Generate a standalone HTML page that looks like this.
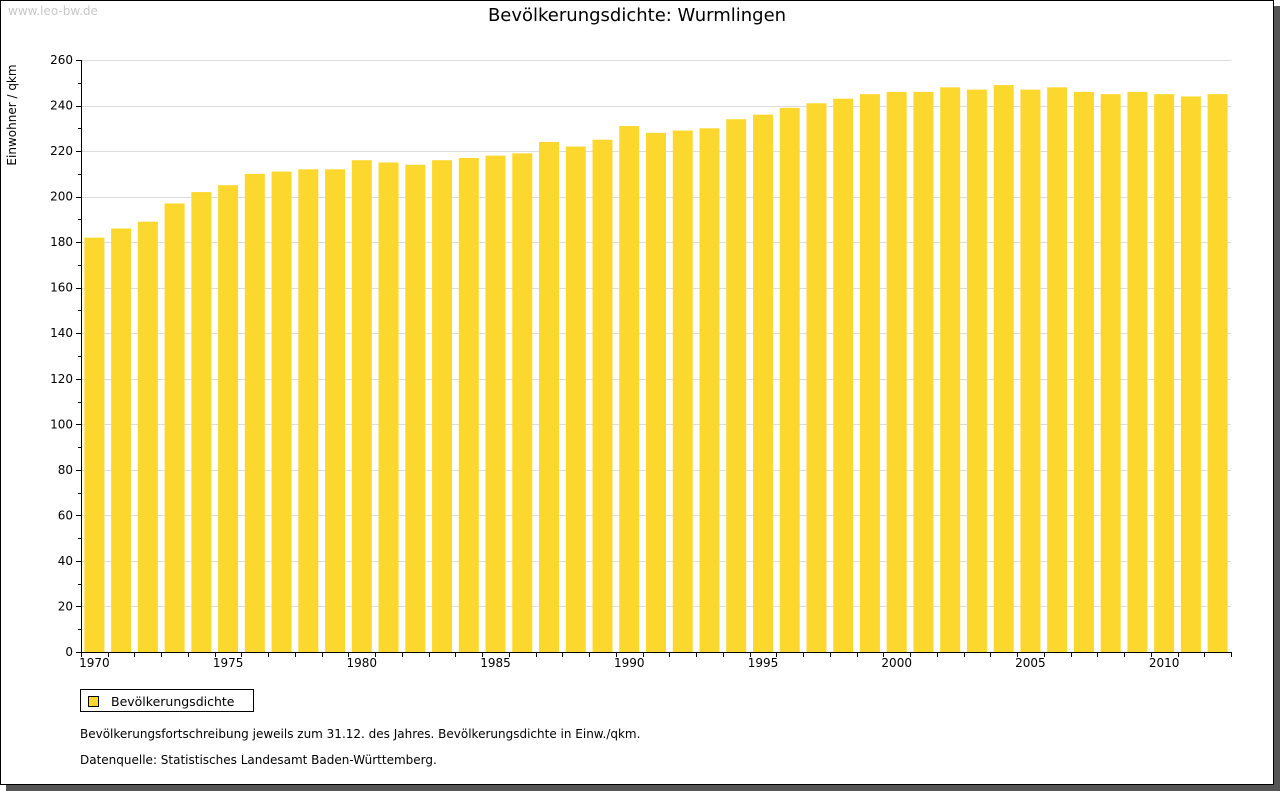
<!DOCTYPE html>
<html><head><meta charset="utf-8"><style>
body{margin:0;background:#fff;width:1280px;height:791px;overflow:hidden;font-family:"DejaVu Sans","Liberation Sans",sans-serif}
</style></head><body>
<svg width="1280" height="791" xmlns="http://www.w3.org/2000/svg">
<rect x="6" y="6" width="1274" height="785" fill="#555"/>
<rect x="0.5" y="0.5" width="1273" height="784" fill="#fff" stroke="#000"/>
<text x="8" y="15" font-size="12" fill="#c8c8c8">www.leo-bw.de</text>
<text x="637" y="21" font-size="18" text-anchor="middle" fill="#000">Bevölkerungsdichte: Wurmlingen</text>
<text transform="translate(16,115) rotate(-90)" font-size="12" text-anchor="middle" fill="#000">Einwohner / qkm</text>
<g id="grid"></g><g id="bars"></g><g id="axes"></g>
<rect x="80.5" y="689.5" width="173" height="22" fill="#fff" stroke="#000"/>
<rect x="88.5" y="696.5" width="10" height="10" fill="#fcd82f" stroke="#000"/>
<text x="111" y="706" font-size="12.5">Bevölkerungsdichte</text>
<text x="80" y="738" font-size="12">Bevölkerungsfortschreibung jeweils zum 31.12. des Jahres. Bevölkerungsdichte in Einw./qkm.</text>
<text x="80" y="764" font-size="12">Datenquelle: Statistisches Landesamt Baden-Württemberg.</text>
</svg>
<script>
const years=[1970,1971,1972,1973,1974,1975,1976,1977,1978,1979,1980,1981,1982,1983,1984,1985,1986,1987,1988,1989,1990,1991,1992,1993,1994,1995,1996,1997,1998,1999,2000,2001,2002,2003,2004,2005,2006,2007,2008,2009,2010,2011,2012];
const density=[182,186,189,197,202,205,210,211,212,212,216,215,214,216,217,218,219,224,222,225,231,228,229,230,234,236,239,241,243,245,246,246,248,247,249,247,248,246,245,246,245,244,245];
const yTicks=[0,20,40,60,80,100,120,140,160,180,200,220,240,260];
const xLabels=[1970,1975,1980,1985,1990,1995,2000,2005,2010];
const NS='http://www.w3.org/2000/svg';
const X0=81,X1=1231,Y0=652,Y1=60,YMAX=260;
const band=(X1-X0)/years.length;
const y=v=>Y0-(v/YMAX)*(Y0-Y1);
const xc=i=>X0+(i+0.5)*band;
function mk(tag,attrs,parent,txt){const e=document.createElementNS(NS,tag);for(const k in attrs)e.setAttribute(k,attrs[k]);if(txt!==undefined)e.textContent=txt;document.getElementById(parent).appendChild(e);return e;}
yTicks.forEach(t=>{
 if(t>0){const g=mk('line',{x1:X0,x2:X1,y1:Math.round(y(t))+0.5,y2:Math.round(y(t))+0.5,stroke:'#dcdcdc'},'grid');
 
 }
 const tk=mk('line',{x1:X0-5,x2:X0,y1:Math.round(y(t))+0.5,y2:Math.round(y(t))+0.5,stroke:'#000'},'axes');
 
 
 const lb=mk('text',{x:X0-8,y:y(t)+4,'font-size':12,'text-anchor':'end'},'axes',String(t));
 
 
 if(t<YMAX){const m=mk('line',{x1:X0-3,x2:X0,y1:Math.round(y(t+10))+0.5,y2:Math.round(y(t+10))+0.5,stroke:'#000'},'axes');
 
 }
});
density.forEach((v,i)=>{
 const r=mk('rect',{x:xc(i)-10,y:y(v),width:20,height:Y0-y(v),fill:'#fcd82f'},'bars');
 
 
});
for(let i=0;i<=years.length;i++){
 const xx=Math.round(X0+i*band)+0.5;
 const t=mk('line',{x1:xx,x2:xx,y1:Y0,y2:Y0+5,stroke:'#000'},'axes');
 
 
}
xLabels.forEach(yr=>{
 const i=years.indexOf(yr);
 const l=mk('text',{x:xc(i),y:Y0+15,'font-size':12,'text-anchor':'middle'},'axes',String(yr));
 
 
});
const ya=mk('line',{x1:X0+0.5,x2:X0+0.5,y1:Y1,y2:Y0+1,stroke:'#000'},'axes');


const xa=mk('line',{x1:X0,x2:X1,y1:Y0+0.5,y2:Y0+0.5,stroke:'#000'},'axes');


</script>
</body></html>
